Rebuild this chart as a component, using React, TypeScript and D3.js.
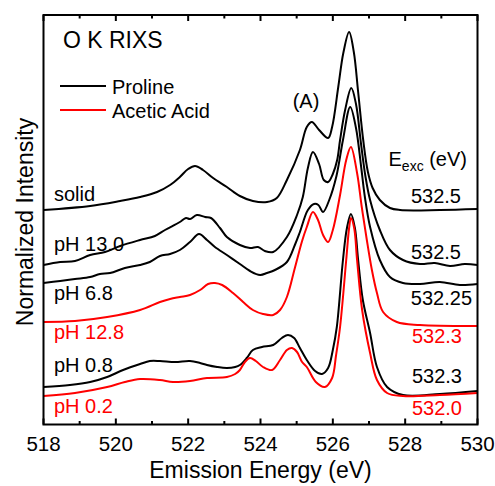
import React from 'react';
import * as d3 from 'd3';

// [emission energy (eV), normalized intensity incl. vertical offset]
const solid: [number, number][] = [
  [518.0, 53.5], [519.29, 54.5], [520.12, 55.75], [520.67, 56.75], [521.14, 58], [521.5, 59.75],
  [521.77, 61.75], [522.0, 63.75], [522.19, 64.5], [522.41, 63.5], [522.69, 61.5], [523.07, 59.25],
  [523.43, 57], [523.79, 55.75], [524.18, 55.5], [524.45, 56.5], [524.73, 61], [525.09, 68.5],
  [525.28, 74.25], [525.42, 75.5], [525.62, 73.5], [525.87, 71.5], [525.98, 74.25], [526.15, 84.25],
  [526.29, 92.75], [526.45, 98], [526.58, 93], [526.7, 83], [526.84, 71], [526.97, 63],
  [527.1, 59], [527.3, 56], [527.58, 54], [527.86, 53.5], [528.96, 53.5], [530.0, 53.75],
];

const ph130: [number, number][] = [
  [518.0, 39.75], [518.46, 40.5], [518.87, 40.75], [519.29, 42.25], [519.7, 43], [520.12, 44.5],
  [520.67, 46], [521.08, 47], [521.36, 48.5], [521.77, 50.5], [521.94, 51.5], [522.05, 51.25],
  [522.24, 52.25], [522.47, 51.75], [522.63, 51.5], [522.88, 49], [523.07, 46.75], [523.43, 44.75],
  [523.71, 44], [523.93, 44.25], [524.12, 43.25], [524.35, 43], [524.73, 46.75], [525.01, 52.25],
  [525.17, 56.75], [525.31, 64], [525.45, 68], [525.62, 65], [525.75, 61], [525.87, 60.5],
  [526.0, 62.5], [526.12, 66], [526.2, 71], [526.34, 78.5], [526.51, 84], [526.64, 80],
  [526.78, 70], [526.9, 62], [527.03, 56], [527.3, 48.5], [527.58, 43.5], [527.94, 41],
  [528.41, 40], [528.82, 40.25], [529.24, 39.5], [529.65, 40], [530.0, 39.75],
];

const ph68: [number, number][] = [
  [518.0, 35.25], [518.46, 35.75], [518.87, 36.25], [519.29, 36.75], [519.56, 37.5], [519.84, 37.75],
  [520.25, 39], [520.67, 39.75], [520.94, 40.5], [521.22, 42], [521.5, 42.5], [521.77, 43.5],
  [522.05, 45.5], [522.3, 47.5], [522.52, 46], [522.74, 44.25], [523.07, 42.25], [523.43, 40],
  [523.71, 38.25], [523.99, 37.25], [524.18, 37.75], [524.4, 38.5], [524.73, 40.5], [524.95, 44.75],
  [525.09, 48], [525.31, 53.5], [525.48, 55], [525.6, 54.75], [525.73, 53], [525.9, 56],
  [526.1, 62], [526.28, 71], [526.48, 79.25], [526.64, 74], [526.78, 64.5], [526.89, 56.5],
  [527.03, 49.25], [527.3, 41], [527.58, 36.75], [527.94, 35.25], [528.41, 35], [528.96, 35.5],
  [529.51, 34.75], [530.0, 35],
];

const ph128: [number, number][] = [
  [518.0, 25.5], [518.87, 25.75], [519.76, 26.75], [520.67, 28.5], [521.22, 30.5], [521.5, 31.25],
  [521.77, 31.75], [522.05, 32.25], [522.33, 33.5], [522.55, 35], [522.74, 35.25], [522.94, 34.75],
  [523.24, 32.75], [523.52, 30.5], [523.79, 28.5], [524.07, 27.5], [524.35, 27.25], [524.54, 28.5],
  [524.73, 31.75], [524.95, 39], [525.15, 45.75], [525.28, 49.25], [525.45, 53], [525.59, 51],
  [525.73, 47.25], [525.87, 45.5], [526.0, 48.5], [526.2, 57.25], [526.37, 66], [526.5, 69.25],
  [526.67, 62.75], [526.8, 54.25], [526.94, 46], [527.08, 38.5], [527.22, 32.75], [527.39, 28],
  [527.77, 25.5], [528.41, 24.75], [530.0, 24.5],
];

const ph08: [number, number][] = [
  [518.0, 9.25], [518.73, 9.75], [519.29, 10.5], [519.76, 11.75], [520.2, 13.5], [520.67, 15],
  [520.94, 15.75], [521.22, 15.75], [521.64, 15.5], [522.05, 15.75], [522.33, 15.25], [522.52, 14.75],
  [522.8, 14.25], [523.07, 14], [523.3, 14.25], [523.43, 14.75], [523.62, 16.5], [523.79, 18.5],
  [524.04, 19.25], [524.35, 19.75], [524.59, 21.5], [524.76, 22.25], [524.93, 21.5], [525.09, 19],
  [525.28, 16], [525.51, 13.25], [525.7, 12.5], [525.87, 14], [526.0, 18.5], [526.11, 24.25],
  [526.28, 41], [526.39, 49], [526.5, 52.5], [526.61, 49], [526.7, 41], [526.83, 31],
  [527.03, 22.75], [527.22, 14.25], [527.5, 9.25], [527.94, 7.25], [528.96, 7.5], [530.0, 8.25],
];

const ph02: [number, number][] = [
  [518.0, 7], [518.87, 7.75], [519.76, 9.25], [520.25, 10.5], [520.67, 11.25], [521.22, 11],
  [521.58, 10.5], [522.05, 10.75], [522.52, 11.5], [523.07, 11.75], [523.3, 12.5], [523.43, 13.5],
  [523.57, 15.5], [523.71, 16.5], [523.87, 15.75], [524.07, 14.25], [524.32, 13.5], [524.54, 16],
  [524.73, 18.5], [524.87, 19], [525.01, 18], [525.15, 15.5], [525.28, 14.25], [525.53, 10.5],
  [525.78, 9.25], [525.98, 11.5], [526.09, 17.25], [526.2, 24.25], [526.37, 41], [526.45, 49],
  [526.5, 51.5], [526.59, 49], [526.67, 41], [526.81, 28.5], [527.03, 17.75], [527.22, 11],
  [527.5, 7.75], [527.94, 7], [528.96, 7.25], [530.0, 7.75],
];

const series = [
  { name: 'solid', data: solid, color: '#000', exc: '532.5' },
  { name: 'pH 13.0', data: ph130, color: '#000', exc: '532.5' },
  { name: 'pH 6.8', data: ph68, color: '#000', exc: '532.25' },
  { name: 'pH 12.8', data: ph128, color: '#ff0000', exc: '532.3' },
  { name: 'pH 0.8', data: ph08, color: '#000', exc: '532.3' },
  { name: 'pH 0.2', data: ph02, color: '#ff0000', exc: '532.0' },
];

// label positions (left name, right excitation energy)
const leftLabelY = [201, 251, 300, 339, 372, 413];
const rightLabel: [number, number][] = [[461, 203], [461, 259], [472, 305], [462, 343], [462, 383], [462, 415]];

const xTicks = [518, 520, 522, 524, 526, 528, 530];
const xMinor = [519, 521, 523, 525, 527, 529];

const W = 495;
const H = 486;
const m = { left: 43.5, right: 477.5, top: 15, bottom: 424.5 };

export default function App() {
  const x = d3.scaleLinear().domain([518, 530]).range([m.left, m.right]);
  const y = d3.scaleLinear().domain([0, 102.5]).range([424, 14]);
  const line = d3
    .line<[number, number]>()
    .x((d) => x(d[0]))
    .y((d) => y(d[1]))
    .curve(d3.curveCatmullRom.alpha(0.5));

  const font = 'Liberation Sans, Arial, sans-serif';

  return (
    <svg width={W} height={H} style={{ position: 'absolute', left: 0, top: 0 }} fontFamily={font}>
      <rect width={W} height={H} fill="#fff" />
      <defs>
        <clipPath id="plot">
          <rect x={m.left} y={m.top} width={m.right - m.left} height={m.bottom - m.top} />
        </clipPath>
      </defs>

      <g clipPath="url(#plot)">
        {series.map((s) => (
          <path key={s.name} d={line(s.data) || ''} fill="none" stroke={s.color} strokeWidth={2} strokeLinejoin="round" />
        ))}
      </g>

      {/* frame */}
      <rect x={m.left} y={m.top} width={m.right - m.left} height={m.bottom - m.top} fill="none" stroke="#000" strokeWidth={2} />

      {/* ticks, inward, bottom and top */}
      {xTicks.map((t) => (
        <g key={'M' + t}>
          <line x1={x(t)} x2={x(t)} y1={m.bottom} y2={m.bottom - 6} stroke="#000" strokeWidth={2} />
          <line x1={x(t)} x2={x(t)} y1={m.top} y2={m.top + 6} stroke="#000" strokeWidth={2} />
          <text x={x(t)} y={451} textAnchor="middle" fontSize={20.5}>{t}</text>
        </g>
      ))}
      {xMinor.map((t) => (
        <g key={'m' + t}>
          <line x1={x(t)} x2={x(t)} y1={m.bottom} y2={m.bottom - 3.5} stroke="#000" strokeWidth={2} />
          <line x1={x(t)} x2={x(t)} y1={m.top} y2={m.top + 3.5} stroke="#000" strokeWidth={2} />
        </g>
      ))}

      <text x={(m.left + m.right) / 2} y={478} textAnchor="middle" fontSize={23}>Emission Energy (eV)</text>
      <text transform="translate(33,222) rotate(-90)" textAnchor="middle" fontSize={23}>Normalized Intensity</text>

      <text x={63} y={48} fontSize={23}>O K RIXS</text>

      {/* legend */}
      <line x1={60} x2={106} y1={86} y2={86} stroke="#000" strokeWidth={2} />
      <text x={112} y={94} fontSize={20}>Proline</text>
      <line x1={60} x2={106} y1={110} y2={110} stroke="#ff0000" strokeWidth={2} />
      <text x={112} y={118} fontSize={20}>Acetic Acid</text>

      <text x={306} y={108} textAnchor="middle" fontSize={20}>(A)</text>

      <text x={467} y={166} textAnchor="end" fontSize={20}>
        E<tspan fontSize={14} dy={5}>exc</tspan><tspan dy={-5}> (eV)</tspan>
      </text>

      {series.map((s, i) => (
        <g key={'l' + s.name}>
          <text x={54} y={leftLabelY[i]} fontSize={20} fill={s.color}>{s.name}</text>
          <text x={rightLabel[i][0]} y={rightLabel[i][1]} textAnchor="end" fontSize={20} fill={s.color}>{s.exc}</text>
        </g>
      ))}
    </svg>
  );
}
